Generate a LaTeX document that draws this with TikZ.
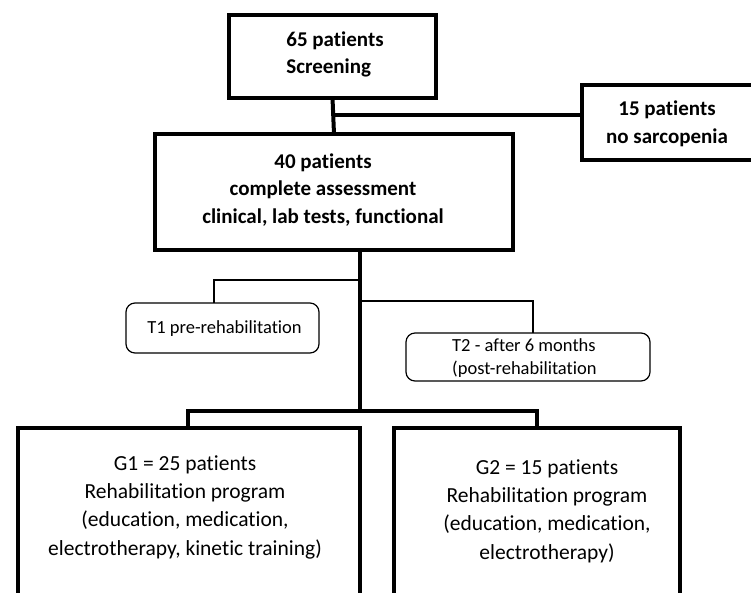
\documentclass[tikz,border=0pt]{standalone}
\usepackage{fontspec}
\setmainfont{Carlito}[Ligatures={NoCommon,NoContextual}]
\begin{document}
\begin{tikzpicture}[x=1pt,y=-1pt,
  thickbox/.style={draw=black,line width=4pt,rectangle,outer sep=0pt,inner sep=0pt,fill=white},
  softbox/.style={draw=black,line width=1.2pt,rectangle,rounded corners=9pt,outer sep=0pt,inner sep=0pt},
  heavy/.style={draw=black,line width=4pt},
  light/.style={draw=black,line width=1.3pt},
  boldtxt/.style={font=\bfseries\fontsize{21}{27.5}\selectfont,inner sep=0pt},
  smalltxt/.style={font=\fontsize{18.5}{23}\selectfont,inner sep=0pt},
  gtxt/.style={font=\fontsize{21.5}{28.3}\selectfont,inner sep=0pt,align=center}]
\useasboundingbox (0,0) rectangle (751,592);
\clip (0,0) rectangle (751,592);
\fill[white] (0,0) rectangle (751,592);
% boxes
\node[thickbox,minimum width=207pt,minimum height=83pt] (A) at (332.5,56.5) {};
\node[thickbox,minimum width=358pt,minimum height=116pt] (B) at (334,192) {};
\node[thickbox,minimum width=200pt,minimum height=75pt] (C) at (682,122.5) {};
\node[thickbox,minimum width=342pt,minimum height=212pt] (G1) at (189,534) {};
\node[thickbox,minimum width=286pt,minimum height=212pt] (G2) at (537,534) {};
\node[softbox,minimum width=193pt,minimum height=50pt] (T1) at (222.5,328) {};
\node[softbox,minimum width=244pt,minimum height=48pt] (T2) at (528,357) {};
% texts
\node[boldtxt,align=left] (tA) at (335,54.5) {65 patients\\Screening};
\node[boldtxt,align=center] (tB) at (323,190) {40 patients\\complete assessment\\clinical, lab tests, functional};
\node[boldtxt,align=center] (tC) at (667,124) {15 patients\\no sarcopenia};
\node[smalltxt] (tT1) at (224.5,329) {T1 pre-rehabilitation};
\node[smalltxt,align=left,anchor=west] (tT2) at (452,358.5) {T2 - after 6 months\\(post-rehabilitation};
\node[gtxt] (tG1) at (185,507) {G1 = 25 patients\\Rehabilitation program\\(education, medication,\\electrotherapy, kinetic training)};
\node[gtxt] (tG2) at (547,511) {G2 = 15 patients\\Rehabilitation program\\(education, medication,\\electrotherapy)};
% junction coordinates
\coordinate (jA) at (332.5,115);
\coordinate (sB) at (360,252);
\coordinate (j1) at (360,280);
\coordinate (j2) at (360,301);
\coordinate (jG) at (360,411);
% connectors
\draw[heavy] (A.south) -- (B.north);
\draw[heavy] (jA) -- (jA -| C.west);
\draw[heavy] (sB) -- (jG);
\draw[heavy] ([xshift=-1.5pt]G1.north) |- (jG) -| (G2.north);
\draw[light] (j1) -| ([xshift=-8.5pt]T1.north);
\draw[light] (j2) -| ([xshift=5pt]T2.north);
\end{tikzpicture}
\end{document}
